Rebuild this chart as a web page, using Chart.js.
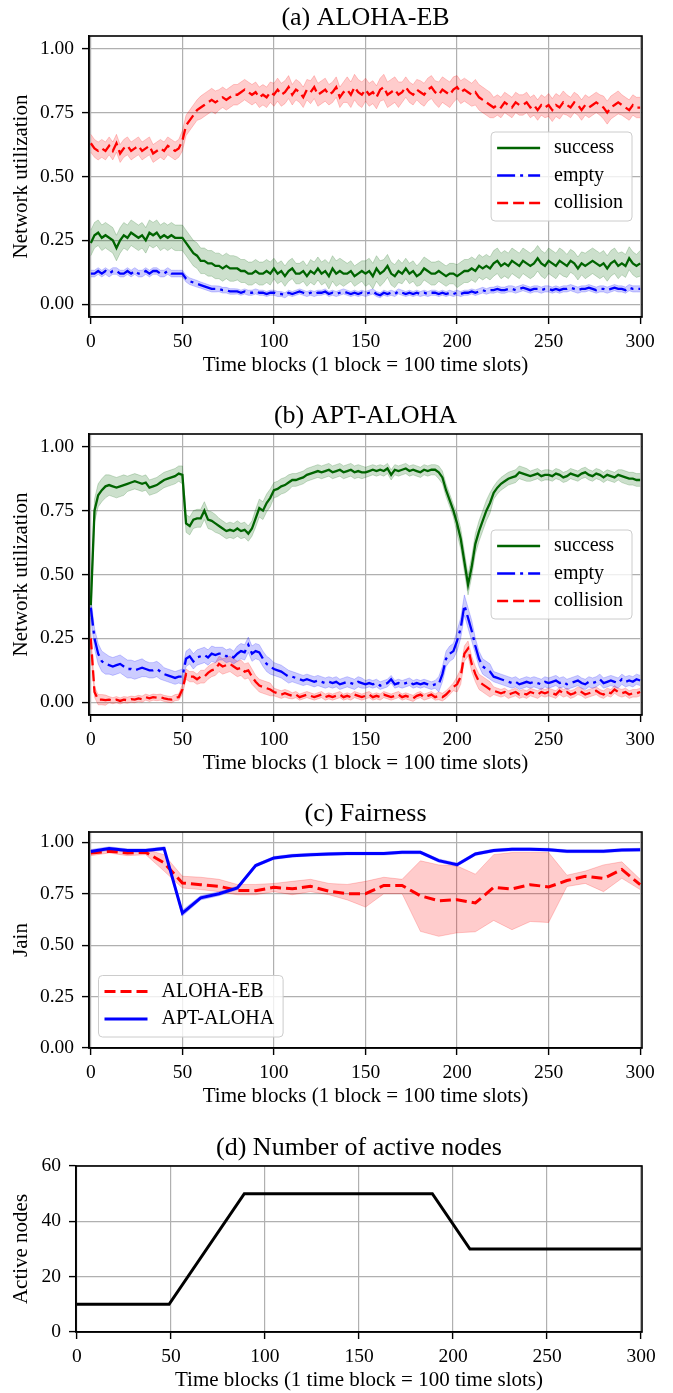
<!DOCTYPE html>
<html>
<head>
<meta charset="utf-8">
<script src="https://cdn.jsdelivr.net/npm/chart.js@4.4.1/dist/chart.umd.min.js"></script>
<style>
  html, body { margin: 0; padding: 0; background: #fff; overflow: hidden; width: 673px; height: 1393px; }
  canvas { position: absolute; left: 0; }
</style>
</head>
<body>
<canvas id="chartA" width="673" height="379" style="top:0px"></canvas>
<canvas id="chartB" width="673" height="379" style="top:398px"></canvas>
<canvas id="chartC" width="673" height="314" style="top:796px"></canvas>
<canvas id="chartD" width="673" height="264" style="top:1130px"></canvas>
<script>
// time axis of panels (a) and (b): one value every 2 time blocks
const blocks = Array.from({ length: 151 }, (_, i) => i * 2);
const xTicks = [0, 50, 100, 150, 200, 250, 300];
const utilTicks = [0, 0.25, 0.5, 0.75, 1];
const nodeTicks = [0, 20, 40, 60];

// (a) ALOHA-EB, mean values at blocks 0,2,...,300
const aSuccess = [
  .24,.27,.28,.26,.27,.26,.25,.22,.25,.27,.26,.28,.27,.26,.27,.25,.28,.27,.28,.26,.27,.26,.27,.26,.26,
  .26,.24,.22,.20,.19,.17,.17,.16,.16,.15,.15,.14,.15,.14,.14,.14,.13,.13,.12,.12,.13,.12,.12,.13,.12,
  .14,.12,.13,.11,.13,.14,.12,.12,.13,.11,.13,.12,.14,.12,.13,.11,.14,.12,.13,.12,.12,.13,.11,.12,.13,
  .12,.13,.11,.14,.12,.13,.15,.12,.11,.13,.12,.14,.12,.13,.11,.12,.14,.13,.12,.12,.13,.12,.11,.12,.12,
  .11,.12,.13,.13,.14,.13,.15,.14,.15,.14,.16,.17,.15,.16,.15,.17,.16,.15,.17,.16,.15,.16,.18,.16,.15,
  .17,.16,.15,.17,.16,.15,.17,.16,.14,.16,.15,.16,.17,.16,.15,.16,.14,.16,.17,.15,.16,.15,.18,.16,.15,
  .16];
const aEmpty = [
  .12,.12,.13,.12,.13,.12,.13,.13,.12,.12,.13,.12,.13,.12,.12,.13,.12,.13,.13,.12,.12,.13,.12,.12,.12,
  .12,.10,.09,.085,.08,.075,.07,.065,.06,.06,.06,.055,.055,.05,.05,.05,.045,.05,.045,.045,.05,.045,.045,.04,.045,
  .045,.04,.04,.035,.045,.04,.045,.05,.045,.04,.045,.04,.045,.045,.05,.04,.045,.04,.045,.05,.045,.04,.045,.04,.045,
  .04,.045,.05,.04,.035,.045,.04,.045,.04,.05,.045,.04,.045,.04,.045,.04,.045,.04,.045,.045,.04,.045,.04,.045,.04,
  .045,.04,.045,.045,.05,.045,.05,.055,.05,.055,.055,.06,.055,.055,.06,.06,.055,.06,.065,.06,.055,.06,.06,.055,.06,
  .06,.055,.06,.055,.06,.06,.065,.06,.055,.06,.06,.065,.06,.055,.06,.06,.055,.06,.065,.06,.06,.055,.065,.06,.06,
  .06];
const aCollision = [
  .63,.61,.60,.61,.60,.62,.60,.63,.59,.61,.62,.60,.61,.62,.60,.61,.62,.59,.60,.61,.60,.62,.61,.60,.61,
  .64,.70,.72,.74,.76,.77,.78,.79,.80,.79,.80,.81,.80,.81,.82,.82,.83,.84,.83,.82,.83,.81,.82,.81,.83,
  .82,.84,.82,.83,.85,.82,.84,.83,.81,.84,.83,.85,.82,.83,.84,.82,.83,.85,.81,.83,.84,.82,.85,.83,.82,
  .84,.82,.83,.81,.84,.85,.82,.83,.84,.82,.83,.85,.83,.82,.84,.83,.82,.84,.85,.83,.82,.84,.83,.82,.84,
  .85,.83,.84,.83,.82,.83,.81,.80,.79,.78,.77,.78,.77,.79,.78,.77,.79,.78,.78,.79,.77,.78,.76,.78,.77,
  .78,.76,.78,.77,.79,.78,.77,.79,.78,.76,.78,.77,.78,.79,.78,.77,.75,.77,.78,.79,.78,.77,.76,.78,.77,
  .77];
// half width of the shaded band, one value per 10 blocks
const aSuccessSpread = [.05,.05,.05,.05,.05,.05,.05,.05,.045,.045,.04,.04,.045,.05,.04,.05,.045,.04,.045,.04,.045,.045,.05,.05,.05,.05,.045,.05,.05,.045,.05];
const aEmptySpread = [.013,.013,.013,.013,.013,.013,.012,.011,.01,.01,.01,.01,.01,.01,.01,.01,.01,.01,.01,.01,.01,.011,.012,.012,.012,.012,.012,.012,.012,.012,.012];
const aCollisionSpread = [.035,.035,.035,.035,.035,.04,.045,.04,.04,.04,.045,.04,.045,.04,.05,.045,.05,.04,.045,.05,.045,.05,.04,.04,.04,.045,.04,.04,.045,.04,.04];

// (b) APT-ALOHA, mean values at blocks 0,2,...,300
const bSuccess = [
  .38,.75,.81,.83,.845,.85,.845,.84,.845,.85,.855,.86,.865,.86,.855,.86,.84,.845,.85,.86,.87,.875,.88,.885,.895,
  .89,.70,.69,.715,.72,.72,.75,.715,.71,.70,.69,.68,.67,.675,.67,.68,.67,.675,.66,.68,.72,.76,.75,.78,.80,
  .83,.835,.845,.85,.86,.87,.87,.875,.88,.89,.895,.90,.905,.90,.905,.91,.90,.905,.91,.90,.905,.91,.90,.905,.90,
  .90,.905,.91,.905,.91,.905,.915,.89,.91,.905,.91,.915,.905,.91,.905,.90,.91,.905,.91,.91,.90,.88,.83,.79,.75,
  .70,.64,.55,.46,.53,.62,.67,.71,.75,.78,.82,.84,.855,.865,.875,.88,.885,.90,.895,.89,.885,.89,.895,.885,.89,
  .89,.885,.895,.89,.88,.885,.895,.89,.885,.895,.90,.89,.885,.895,.89,.88,.89,.885,.88,.89,.885,.88,.875,.875,.87,
  .87];
const bEmpty = [
  .37,.25,.19,.16,.15,.145,.14,.145,.15,.14,.13,.13,.125,.13,.135,.13,.125,.125,.13,.12,.11,.105,.10,.095,.10,
  .10,.17,.18,.16,.175,.18,.185,.175,.19,.185,.19,.19,.18,.185,.175,.19,.20,.195,.225,.19,.20,.195,.17,.15,.14,
  .13,.125,.12,.11,.10,.10,.095,.09,.085,.09,.085,.08,.085,.08,.075,.08,.075,.08,.07,.075,.08,.075,.07,.08,.075,
  .07,.075,.07,.075,.065,.07,.075,.09,.07,.075,.07,.075,.08,.07,.075,.07,.075,.07,.065,.07,.07,.11,.17,.19,.20,
  .24,.29,.38,.33,.28,.22,.17,.14,.13,.12,.10,.095,.09,.085,.08,.075,.08,.07,.075,.08,.075,.08,.075,.07,.08,
  .075,.08,.085,.075,.08,.07,.075,.08,.085,.075,.07,.08,.075,.08,.09,.075,.08,.085,.08,.075,.09,.08,.085,.08,.09,
  .085];
const bCollision = [
  .25,.04,.01,.01,.008,.01,.006,.01,.005,.01,.008,.012,.01,.015,.012,.02,.015,.02,.018,.02,.015,.012,.01,.018,.02,
  .05,.11,.10,.10,.09,.10,.10,.115,.125,.13,.15,.14,.145,.15,.14,.13,.135,.12,.125,.10,.08,.065,.06,.055,.05,
  .04,.035,.03,.035,.03,.025,.03,.02,.025,.03,.025,.02,.025,.03,.02,.025,.02,.025,.03,.02,.025,.02,.03,.025,.02,
  .025,.03,.02,.025,.02,.03,.025,.02,.025,.03,.02,.025,.02,.015,.025,.03,.02,.025,.03,.02,.025,.02,.03,.045,.06,
  .07,.10,.19,.21,.15,.11,.08,.07,.06,.05,.045,.04,.035,.04,.03,.035,.04,.03,.035,.03,.04,.035,.03,.04,.035,
  .04,.035,.03,.045,.035,.04,.03,.035,.045,.04,.03,.035,.04,.045,.035,.03,.04,.035,.05,.04,.035,.04,.03,.035,.035,
  .04];
const bSuccessSpread = [.045,.04,.03,.03,.03,.035,.035,.03,.03,.035,.03,.025,.025,.025,.025,.02,.02,.02,.02,.025,.04,.04,.025,.025,.02,.02,.02,.02,.02,.025,.025];
const bEmptySpread = [.04,.035,.035,.03,.025,.03,.03,.025,.03,.03,.025,.02,.02,.02,.02,.015,.015,.015,.015,.03,.04,.03,.02,.02,.02,.02,.02,.02,.02,.02,.02];
const bCollisionSpread = [.02,.012,.012,.012,.012,.02,.025,.03,.03,.025,.015,.012,.012,.012,.012,.012,.012,.012,.012,.015,.03,.03,.015,.015,.015,.015,.015,.015,.015,.015,.015];

// (c) Fairness, every 10 blocks
const fairBlocks = [0,10,20,30,40,50,60,70,80,90,100,110,120,130,140,150,160,170,180,190,200,210,220,230,240,250,260,270,280,290,300];
const jainEb = [.948,.956,.948,.951,.90,.802,.794,.786,.766,.765,.781,.774,.786,.762,.75,.75,.79,.79,.74,.716,.721,.705,.781,.773,.794,.783,.814,.835,.824,.868,.794];
const jainEbLow = [.935,.948,.935,.94,.86,.778,.77,.76,.745,.745,.76,.745,.76,.745,.72,.685,.75,.75,.567,.543,.56,.565,.62,.575,.615,.61,.785,.80,.76,.825,.77];
const jainEbHigh = [.962,.965,.958,.965,.94,.835,.83,.82,.795,.795,.80,.81,.82,.80,.795,.81,.83,.82,.91,.89,.885,.845,.94,.95,.95,.95,.84,.86,.89,.905,.82];
const jainApt = [.955,.97,.96,.96,.97,.656,.73,.75,.778,.887,.924,.935,.94,.943,.945,.945,.945,.951,.951,.911,.891,.943,.96,.966,.966,.964,.956,.956,.956,.962,.964];
const jainAptLow = [.945,.962,.952,.952,.962,.642,.72,.74,.77,.88,.917,.928,.933,.936,.938,.938,.938,.944,.944,.903,.883,.936,.953,.959,.959,.957,.949,.949,.949,.955,.957];
const jainAptHigh = [.965,.978,.968,.968,.978,.67,.74,.76,.786,.894,.931,.942,.947,.95,.952,.952,.952,.958,.958,.919,.899,.95,.967,.973,.973,.971,.963,.963,.963,.969,.971];

// (d) Number of active nodes
const nodeBlocks = [0, 49, 89, 189, 209, 300];
const activeNodes = [10, 10, 50, 50, 30, 30];

const FONT = '"Liberation Serif", "Times New Roman", serif';
Chart.defaults.font.family = FONT;
Chart.defaults.color = '#000';

const GREEN = '#006400', BLUE = '#0000ff', RED = '#ff0000';
const GREEN_BAND = 'rgba(0,100,0,0.2)', BLUE_BAND = 'rgba(0,0,255,0.2)', RED_BAND = 'rgba(255,0,0,0.2)';
const DASHED = [11, 5], DASHDOT = [18, 5, 3, 5];

function pairs(xs, ys) { return xs.map((x, i) => ({ x: x, y: ys[i] })); }
function bandEdge(ys, spread, side) {
  return blocks.map((x, i) => ({ x: x, y: ys[i] + side * spread[Math.floor(x / 10)] }));
}
function lineSet(label, data, color, dash, width, order) {
  return { label, data, borderColor: color, borderDash: dash, borderWidth: width, fill: false, order };
}
function bandSets(hi, lo, color) {
  return [
    { data: hi, borderColor: color, backgroundColor: color, borderWidth: 1, fill: '+1', order: 5 },
    { data: lo, borderColor: color, borderWidth: 1, fill: false, order: 5 }
  ];
}

// full box around the plot, like matplotlib spines
const frame = {
  id: 'frame',
  afterDatasetsDraw(chart) {
    const { ctx, chartArea: a } = chart;
    ctx.save();
    ctx.strokeStyle = '#000';
    ctx.lineWidth = 1.6;
    ctx.strokeRect(a.left, a.top, a.right - a.left, a.bottom - a.top);
    ctx.restore();
  }
};

// legend box drawn inside the plot area
const boxLegend = {
  id: 'boxLegend',
  afterDraw(chart, args, opts) {
    if (!opts.labels) return;
    const { ctx, chartArea: a } = chart;
    const sets = opts.labels.map(l => chart.data.datasets.find(d => d.label === l));
    ctx.save();
    ctx.font = '20px ' + FONT;
    const textW = Math.max(...opts.labels.map(l => ctx.measureText(l).width));
    const rowH = 27.5;
    const w = 63 + textW + 9;
    const h = 16 + rowH * (sets.length - 1) + 18;
    let x, y;
    if (opts.corner === 'right') {
      x = a.right - 10 - w;
      y = (a.top + a.bottom) / 2 - h / 2;
    } else {
      x = a.left + 9.5;
      y = a.bottom - 11 - h;
    }
    ctx.beginPath();
    ctx.roundRect(x, y, w, h, 4);
    ctx.fillStyle = 'rgba(255,255,255,0.8)';
    ctx.fill();
    ctx.strokeStyle = '#cccccc';
    ctx.lineWidth = 1;
    ctx.stroke();
    sets.forEach((d, i) => {
      const cy = y + 16 + i * rowH;
      ctx.beginPath();
      ctx.setLineDash(d.borderDash || []);
      ctx.strokeStyle = d.borderColor;
      ctx.lineWidth = d.borderWidth;
      ctx.moveTo(x + 6, cy);
      ctx.lineTo(x + 49, cy);
      ctx.stroke();
      ctx.setLineDash([]);
      ctx.fillStyle = '#000';
      ctx.textBaseline = 'middle';
      ctx.fillText(d.label, x + 63, cy);
    });
    ctx.restore();
  }
};

function grid() {
  return { color: '#b0b0b0', lineWidth: 1.2, tickColor: '#000', tickLength: 7, tickWidth: 1.4 };
}

function panel(id, cfg) {
  return new Chart(document.getElementById(id), {
    type: 'line',
    data: { datasets: cfg.datasets },
    options: {
      responsive: false,
      animation: false,
      devicePixelRatio: 1,
      layout: { padding: { left: 0, right: 31, top: 0, bottom: 0 } },
      elements: { point: { radius: 0 }, line: { tension: 0 } },
      plugins: {
        legend: { display: false },
        tooltip: { enabled: false },
        title: {
          display: true, fullSize: false, text: cfg.title, color: '#000',
          font: { size: 26, weight: 'normal' }, padding: { top: 2.4, bottom: 2.4 }
        },
        boxLegend: cfg.legend || {}
      },
      scales: {
        x: {
          type: 'linear', min: cfg.xMin, max: cfg.xMax,
          afterBuildTicks: s => { s.ticks = xTicks.map(v => ({ value: v })); },
          afterFit: s => { s.height = 62; },
          grid: grid(),
          border: { display: true, color: '#000', width: 1.6 },
          ticks: { padding: 6.5, autoSkip: false, maxRotation: 0, color: '#000', font: { size: 19.5 }, callback: v => String(v) },
          title: { display: true, text: cfg.xTitle, color: '#000', font: { size: 21 }, padding: { top: 0, bottom: 0.5 } }
        },
        y: {
          type: 'linear', min: cfg.yMin, max: cfg.yMax,
          afterBuildTicks: s => { s.ticks = cfg.yTicks.map(v => ({ value: v })); },
          afterFit: s => { s.width = cfg.left; },
          grid: grid(),
          border: { display: true, color: '#000', width: 1.6 },
          ticks: { padding: 8, color: '#000', font: { size: 19.5 }, callback: cfg.yFormat },
          title: { display: true, text: cfg.yTitle, color: '#000', font: { size: 21 }, padding: { top: 8.4, bottom: 0 } }
        }
      }
    },
    plugins: [frame, boxLegend]
  });
}

const twoDigits = v => v.toFixed(2);
const blockTitle = 'Time blocks (1 block = 100 time slots)';

panel('chartA', {
  title: '(a) ALOHA-EB', xTitle: blockTitle, yTitle: 'Network utilization',
  xMin: -1, xMax: 301, yMin: -0.05, yMax: 1.05, yTicks: utilTicks, yFormat: twoDigits, left: 89,
  legend: { labels: ['success', 'empty', 'collision'], corner: 'right' },
  datasets: [
    lineSet('success', pairs(blocks, aSuccess), GREEN, [], 2.3, 2),
    lineSet('empty', pairs(blocks, aEmpty), BLUE, DASHDOT, 2.3, 1),
    lineSet('collision', pairs(blocks, aCollision), RED, DASHED, 2.3, 0),
    ...bandSets(bandEdge(aSuccess, aSuccessSpread, 1), bandEdge(aSuccess, aSuccessSpread, -1), GREEN_BAND),
    ...bandSets(bandEdge(aEmpty, aEmptySpread, 1), bandEdge(aEmpty, aEmptySpread, -1), BLUE_BAND),
    ...bandSets(bandEdge(aCollision, aCollisionSpread, 1), bandEdge(aCollision, aCollisionSpread, -1), RED_BAND)
  ]
});

panel('chartB', {
  title: '(b) APT-ALOHA', xTitle: blockTitle, yTitle: 'Network utilization',
  xMin: -1, xMax: 301, yMin: -0.05, yMax: 1.05, yTicks: utilTicks, yFormat: twoDigits, left: 89,
  legend: { labels: ['success', 'empty', 'collision'], corner: 'right' },
  datasets: [
    lineSet('success', pairs(blocks, bSuccess), GREEN, [], 2.3, 2),
    lineSet('empty', pairs(blocks, bEmpty), BLUE, DASHDOT, 2.3, 1),
    lineSet('collision', pairs(blocks, bCollision), RED, DASHED, 2.3, 0),
    ...bandSets(bandEdge(bSuccess, bSuccessSpread, 1), bandEdge(bSuccess, bSuccessSpread, -1), GREEN_BAND),
    ...bandSets(bandEdge(bEmpty, bEmptySpread, 1), bandEdge(bEmpty, bEmptySpread, -1), BLUE_BAND),
    ...bandSets(bandEdge(bCollision, bCollisionSpread, 1), bandEdge(bCollision, bCollisionSpread, -1), RED_BAND)
  ]
});

panel('chartC', {
  title: '(c) Fairness', xTitle: blockTitle, yTitle: 'Jain',
  xMin: -1, xMax: 301, yMin: 0, yMax: 1.05, yTicks: utilTicks, yFormat: twoDigits, left: 89,
  legend: { labels: ['ALOHA-EB', 'APT-ALOHA'], corner: 'lowerLeft' },
  datasets: [
    lineSet('ALOHA-EB', pairs(fairBlocks, jainEb), RED, DASHED, 3, 1),
    lineSet('APT-ALOHA', pairs(fairBlocks, jainApt), BLUE, [], 3, 0),
    ...bandSets(pairs(fairBlocks, jainEbHigh), pairs(fairBlocks, jainEbLow), RED_BAND),
    ...bandSets(pairs(fairBlocks, jainAptHigh), pairs(fairBlocks, jainAptLow), BLUE_BAND)
  ]
});

panel('chartD', {
  title: '(d) Number of active nodes', xTitle: 'Time blocks (1 time block = 100 time slots)', yTitle: 'Active nodes',
  xMin: -0.5, xMax: 300.5, yMin: 0, yMax: 60, yTicks: nodeTicks, yFormat: v => String(v), left: 76,
  datasets: [
    lineSet('nodes', pairs(nodeBlocks, activeNodes), '#000', [], 3, 0)
  ]
});
</script>
</body>
</html>
